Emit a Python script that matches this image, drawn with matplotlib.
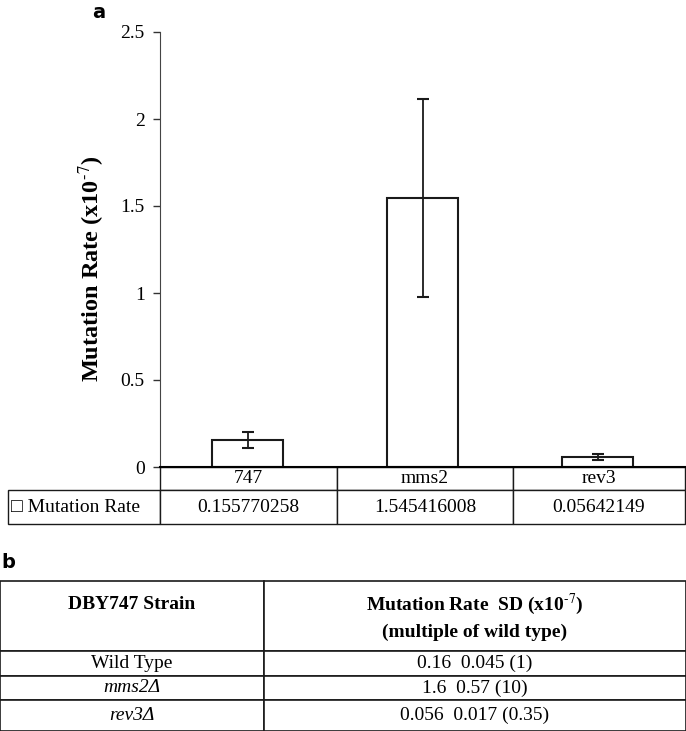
import numpy as np
import matplotlib
matplotlib.use("Agg")
import matplotlib.pyplot as plt

plt.rcParams['font.family'] = ['Liberation Serif', 'DejaVu Sans']
plt.rcParams['mathtext.fontset'] = 'stix'

# panel a data
strains = ['747', 'mms2', 'rev3']
rates = [0.155770258, 1.545416008, 0.05642149]
rate_labels = ['0.155770258', '1.545416008', '0.05642149']
sd = [0.045, 0.57, 0.017]
yticks = [0, 0.5, 1, 1.5, 2, 2.5]
ytick_labels = ['0', '0.5', '1', '1.5', '2', '2.5']

# panel b data
col_headers = ['DBY747 Strain\n ',
               'Mutation Rate  SD (x10$^{\\text{-7}}$)\n(multiple of wild type)']
row_names = ['Wild Type', 'mms2\u0394', 'rev3\u0394']
row_values = ['0.16  0.045 (1)', '1.6  0.57 (10)', '0.056  0.017 (0.35)']

W, H = 686, 731
fig = plt.figure(figsize=(W / 100, H / 100), dpi=100)

# ---- panel a: bar chart
ax = fig.add_axes([160 / W, 1 - 467 / H, 525 / W, 435 / H])
x = np.arange(len(strains))
ax.bar(x, rates, width=0.41, color='white', edgecolor='#1a1a1a', linewidth=1.5)
ax.errorbar(x, rates, yerr=sd, fmt='none', ecolor='#1a1a1a',
            elinewidth=1.3, capsize=4, capthick=1.5)
ax.set_xlim(-0.5, 2.5)
ax.set_ylim(0, 2.5)
ax.set_yticks(yticks)
ax.set_yticklabels(ytick_labels, fontsize=14)
ax.set_xticks([])
ax.tick_params(axis='y', direction='out', length=5, width=1, pad=6,
               color='#333333')
for s in ['top', 'right']:
    ax.spines[s].set_visible(False)
ax.spines['left'].set_color('#444444')
ax.spines['bottom'].set_linewidth(1.5)
ax.set_ylabel('Mutation Rate (x10$^{\\text{-7}}$)', fontsize=17.5,
              fontweight='bold')
ax.yaxis.set_label_coords(-0.10, 0.457)

# data table under the bars: first column holds the legend label
tab_text = [[''] + strains, ['\u25a1 Mutation Rate'] + rate_labels]
tab = ax.table(cellText=tab_text, cellLoc='center',
               colWidths=[152, 177, 176, 172],
               bbox=[-152 / 525, -57 / 435, 677 / 525, 57 / 435])
tab.auto_set_font_size(False)
row_h = {0: 23, 1: 34}
for (r, c), cell in tab.get_celld().items():
    cell.set_linewidth(1.0)
    cell.set_edgecolor('#1a1a1a')
    cell.set_height(row_h[r] / 435)
    cell.get_text().set_fontsize(14)
    if r == 0 and c == 0:
        cell.visible_edges = ''
    if r == 1 and c == 0:
        cell.get_text().set_ha('left')
        cell.PAD = 0.02

fig.text(92 / W, 1 - 13 / H, 'a', family='DejaVu Sans', fontsize=14,
         fontweight='bold', va='center', ha='left')
fig.text(1 / W, 1 - 562 / H, 'b', family='DejaVu Sans', fontsize=14,
         fontweight='bold', va='center', ha='left')

# ---- panel b: table
axb = fig.add_axes([0, 0, 1, 150 / H])
axb.axis('off')
cells = [[n, v] for n, v in zip(row_names, row_values)]
tb = axb.table(cellText=cells, colLabels=col_headers, cellLoc='center',
               colWidths=[264 / W, 422 / W], bbox=[0, 0, 1, 1])
tb.auto_set_font_size(False)
heights = {0: 70, 1: 25, 2: 24, 3: 31}
for (r, c), cell in tb.get_celld().items():
    cell.set_linewidth(1.2)
    cell.set_edgecolor('#1a1a1a')
    cell.set_height(heights[r] / 150)
    cell.get_text().set_fontsize(14)
    if r == 0:
        cell.get_text().set_fontweight('bold')
        cell.get_text().set_linespacing(1.5)
    if r >= 2 and c == 0:
        cell.get_text().set_style('italic')

fig.savefig('out.png', dpi=100)
